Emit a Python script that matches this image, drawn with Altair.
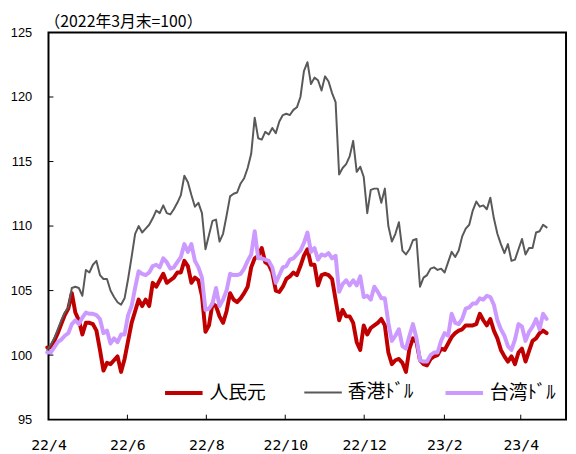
import altair as alt
import pandas as pd

START = "2022-03-31"
END = "2023-04-21"

series_names = ["人民元", "香港ﾄﾞﾙ", "台湾ﾄﾞﾙ"]
series_colors = ["#C00000", "#595959", "#CC99FF"]
series_widths = [4, 2, 4]

cny = [
    100.6, 100.6, 101.1, 101.7, 102.4, 103.1, 103.6, 104.8, 103.3, 102.7,
    101.6, 102.5, 102.5, 102.4, 101.9, 100.4, 98.8, 99.4, 99.3, 99.6,
    99.9, 98.7, 99.7, 101.1, 102.5, 103.4, 104.3, 103.8, 104.3, 103.8,
    105.6, 105.3, 105.8, 106.3, 105.6, 105.8, 106.0, 106.4, 106.4, 107.3,
    106.9, 105.6, 106.0, 105.8, 104.6, 101.8, 102.3, 104.0, 103.8, 103.0,
    102.5, 103.4, 104.8, 104.3, 104.1, 104.4, 104.8, 105.3, 106.8, 107.5,
    107.7, 108.3, 107.2, 107.0, 106.4, 105.0, 104.9, 105.3, 105.9, 106.1,
    106.4, 106.2, 106.9, 107.7, 108.2, 107.0, 107.0, 105.4, 106.2, 106.3,
    106.2, 105.9, 104.3, 102.7, 103.5, 103.0, 103.0, 102.5, 101.0, 100.4,
    102.3, 101.6, 102.1, 102.3, 102.5, 102.8, 102.3, 100.2, 99.3, 99.6,
    99.7, 99.4, 98.7, 100.5, 101.3, 101.0, 99.6, 99.3, 99.2, 99.7,
    99.9, 100.0, 100.5, 100.4, 100.9, 101.4, 101.7, 101.9, 102.0, 102.3,
    102.3, 102.3, 102.4, 103.2, 102.7, 102.3, 102.8, 101.9, 101.3, 100.4,
    99.9, 99.5, 99.9, 99.3, 100.2, 100.5, 99.5, 100.3, 101.1, 101.3,
    101.7, 101.9, 101.7,
]

hkd = [
    100.4, 100.8, 101.3, 102.0, 102.7, 103.3, 103.7, 105.2, 105.3, 105.2,
    104.6, 106.6, 106.4, 107.0, 107.3, 106.2, 105.9, 105.9, 105.0, 104.5,
    104.1, 103.9, 104.4, 105.9, 107.6, 109.4, 110.0, 109.5, 109.8, 110.1,
    110.6, 111.2, 111.0, 111.6, 111.0, 110.9, 111.3, 111.8, 112.4, 113.9,
    113.4, 112.4, 111.5, 111.8, 111.0, 108.2, 109.3, 110.4, 110.5, 108.8,
    109.4, 110.8, 112.3, 112.5, 112.6, 113.3, 113.7, 114.5, 115.6, 118.4,
    116.8, 116.7, 117.3, 117.1, 117.6, 117.2, 118.1, 118.6, 118.7, 118.6,
    119.0, 119.2, 120.0, 122.0, 122.7, 121.0, 121.5, 121.3, 120.5, 121.6,
    121.2, 120.3, 119.6, 114.0, 114.5, 114.8, 115.4, 116.6, 114.2, 114.6,
    113.8, 111.0, 112.8, 112.9, 112.9, 111.8, 112.9, 110.0, 108.8, 109.4,
    110.3, 108.1, 107.8, 108.2, 108.9, 109.0, 105.3, 106.0, 106.2, 106.7,
    106.8, 106.6, 106.7, 106.4, 107.2, 108.0, 107.6, 108.1, 109.2, 109.8,
    110.1, 111.2, 111.9, 111.5, 111.6, 111.3, 112.2, 110.6, 109.4, 108.6,
    107.9, 108.6, 107.3, 107.4, 108.2, 109.0, 107.8, 108.3, 108.3, 109.5,
    109.6, 110.1, 109.9,
]

twd = [
    100.2, 100.2, 100.6, 101.0, 101.2, 101.5, 101.7, 102.4, 102.7, 102.4,
    102.9, 103.3, 103.2, 103.2, 103.1, 102.8, 101.7, 101.9, 100.9, 101.3,
    101.0, 101.6, 101.6, 103.1, 103.8, 105.2, 106.5, 106.3, 106.2, 106.4,
    106.9, 107.0, 106.8, 107.5, 107.2, 106.7, 106.8, 107.2, 107.6, 108.6,
    108.0, 108.6, 107.3, 106.8, 106.0, 103.5, 103.6, 104.0, 105.2, 103.8,
    104.3, 105.0, 106.3, 106.2, 106.2, 106.3, 106.7, 107.3, 107.8, 109.6,
    107.5, 107.5, 107.4, 107.3, 106.8, 105.6, 106.2, 106.8, 106.9, 107.4,
    107.5, 107.8, 108.1, 108.7, 109.5, 108.0, 108.3, 107.4, 107.8, 107.7,
    107.9, 107.5, 107.7, 104.9, 105.5, 105.8, 105.4, 105.8, 105.4, 106.1,
    104.5, 104.6, 104.3, 105.3, 104.9, 104.4, 104.4, 102.5, 101.1, 101.5,
    102.0, 100.7, 100.5, 101.5, 102.4, 101.3, 99.6, 99.5, 99.5, 100.0,
    100.2, 100.2, 101.1, 101.7, 101.5, 103.2, 102.5, 102.4, 102.8, 103.6,
    103.7, 104.0, 104.0, 104.4, 104.3, 104.6, 104.5, 103.9, 102.7, 102.0,
    101.5, 100.7, 100.4, 101.2, 102.4, 102.2, 101.1, 101.8, 102.2, 102.8,
    102.0, 103.2, 102.8,
]

y_ticks = [95, 100, 105, 110, 115, 120, 125]
x_tick_dates = ["2022-04-01", "2022-06-01", "2022-08-01", "2022-10-01",
                "2022-12-01", "2023-02-01", "2023-04-01"]
note = "（2022年3月末=100）"

dates = pd.date_range(START, END, periods=len(cny))
rows = []
for name, vals in zip(series_names, [cny, hkd, twd]):
    for d, v in zip(dates, vals):
        rows.append({"date": d, "series": name, "value": v})
df = pd.DataFrame(rows)


def dt(s):
    y, m, d = (int(p) for p in s.split("-"))
    return alt.DateTime(year=y, month=m, date=d)


x_scale = alt.Scale(domain=[dt("2022-04-01"), dt("2023-05-06")])
y_scale = alt.Scale(domain=[95, 125], nice=False, zero=False)

legend = alt.Legend(
    orient="none", legendX=116, legendY=344, direction="horizontal",
    title=None, symbolType="stroke", symbolSize=1444,
    labelFont="Noto Sans CJK JP", labelFontSize=19, labelColor="black",
    labelOffset=5, columnPadding=22, gridAlign="all",
)

lines = alt.Chart(df).mark_line(strokeJoin="round", strokeCap="round").encode(
    x=alt.X("date:T", scale=x_scale, title=None,
            axis=alt.Axis(values=[dt(s) for s in x_tick_dates], format="%y/%-m",
                          labelFont="DejaVu Sans Mono", labelFontSize=15,
                          labelColor="black", ticks=False, domain=False,
                          grid=False, labelPadding=18, labelFlush=False)),
    y=alt.Y("value:Q", scale=y_scale, title=None,
            axis=alt.Axis(values=y_ticks, labelFont="Liberation Sans",
                          labelFontSize=13, labelColor="black", ticks=False,
                          domain=False, grid=False, labelPadding=17)),
    color=alt.Color("series:N", scale=alt.Scale(domain=series_names, range=series_colors),
                    legend=legend),
    strokeWidth=alt.StrokeWidth("series:N",
                                scale=alt.Scale(type="ordinal", domain=series_names,
                                                range=series_widths),
                                legend=legend),
    order=alt.Order("date:T"),
)

ytick_df = pd.DataFrame({"v": y_ticks[1:-1]})
yticks = alt.Chart(ytick_df).mark_rule(color="black", strokeWidth=1).encode(
    y=alt.Y("v:Q", scale=y_scale), x=alt.value(0), x2=alt.value(5)
)

xtick_df = pd.DataFrame({"d": pd.to_datetime(x_tick_dates[1:])})
xticks = alt.Chart(xtick_df).mark_rule(color="black", strokeWidth=1).encode(
    x=alt.X("d:T", scale=x_scale), y=alt.value(392), y2=alt.value(387)
)

note_layer = alt.Chart(pd.DataFrame({"t": [note]})).mark_text(
    align="left", baseline="middle", fontSize=16, font="Noto Sans CJK JP", color="black"
).encode(text="t:N", x=alt.value(-4), y=alt.value(-11))

chart = alt.layer(lines, yticks, xticks, note_layer).properties(
    width=524, height=392,
    padding={"left": 41, "top": 22, "right": 2, "bottom": 30},
    autosize=alt.AutoSizeParams(type="none"),
    background="white",
).configure_view(stroke="black", strokeWidth=2)

chart.save("out.html", embed_options={"renderer": "svg", "actions": False})
